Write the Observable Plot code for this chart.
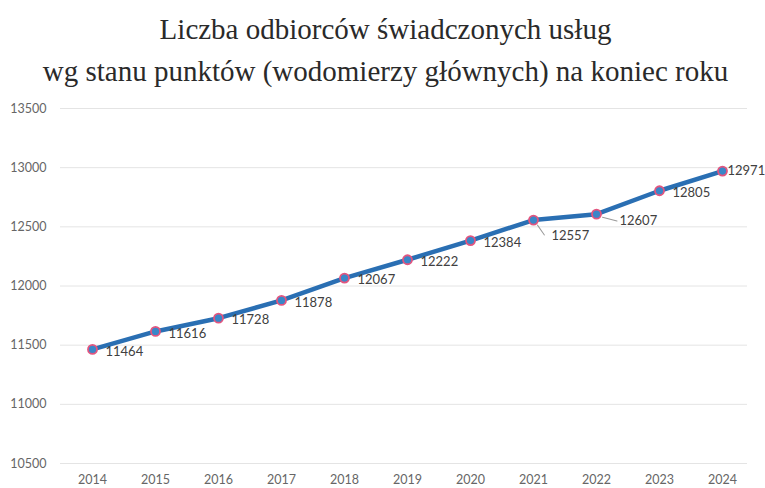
<!DOCTYPE html>
<html><head><meta charset="utf-8">
<script src="https://cdn.jsdelivr.net/npm/d3@7"></script>
<script src="https://cdn.jsdelivr.net/npm/@observablehq/plot@0.6"></script>
<style>
body{margin:0;background:#fff;width:765px;height:488px;overflow:hidden}
#title{height:95px;box-sizing:border-box;padding-top:8px;text-align:center;font-family:"Liberation Serif","DejaVu Serif",serif;font-size:29px;line-height:42px;color:#2a2a2a;padding-left:6px}
</style></head>
<body>
<div id="title">Liczba odbiorców świadczonych usług<br>wg stanu punktów (wodomierzy głównych) na koniec roku</div>
<div id="chart"></div>
<script>
const years = [2014, 2015, 2016, 2017, 2018, 2019, 2020, 2021, 2022, 2023, 2024];
const values = [11464, 11616, 11728, 11878, 12067, 12222, 12384, 12557, 12607, 12805, 12971];
const yTicks = [10500, 11000, 11500, 12000, 12500, 13000, 13500];

const data = years.map((y, i) => ({year: y, value: values[i]}));
const normal = data.filter(d => d.year !== 2021 && d.year !== 2022 && d.year !== 2024);
const font = "Lato, 'Open Sans', sans-serif";
const leader = {draw(ctx, l) { ctx.moveTo(0, 0); ctx.lineTo(0, -l); }};

const plot = Plot.plot({
  width: 765,
  height: 393,
  marginTop: 13,
  marginBottom: 25,
  marginLeft: 60,
  marginRight: 18,
  style: {fontFamily: font, fontSize: "12.5px", color: "#595959", background: "#fff"},
  x: {type: "linear", domain: [2014, 2024], range: [92, 722]},
  y: {domain: [10500, 13500]},
  marks: [
    Plot.ruleY(yTicks, {stroke: "#e4e4e4", strokeWidth: 1}),
    Plot.axisY({ticks: yTicks, tickSize: 0, tickPadding: 14, tickFormat: d => String(d), fill: "#666", label: null}),
    Plot.axisX({ticks: years, tickSize: 0, tickPadding: 12, tickFormat: d => String(d), fill: "#666", label: null}),
    Plot.line(data, {x: "year", y: "value", stroke: "#2a6fb3", strokeWidth: 4.5, strokeLinejoin: "round"}),
    Plot.dot(data, {x: "year", y: "value", r: 4.5, fill: "#3a86c8", stroke: "#e2557f", strokeWidth: 1.8}),
    Plot.text(normal, {x: "year", y: "value", text: d => String(d.value), textAnchor: "start", dx: 13, dy: 2, fill: "#404040", fontSize: 13}),
    Plot.text(data.filter(d => d.year === 2021), {x: "year", y: "value", text: d => String(d.value), textAnchor: "start", dx: 18, dy: 16, fill: "#404040", fontSize: 13}),
    Plot.vector(data.filter(d => d.year === 2021), {x: "year", y: "value", length: 12, rotate: 145, anchor: "start", shape: leader, dx: 4, dy: 5, stroke: "#9a9a9a", strokeWidth: 1}),
    Plot.text(data.filter(d => d.year === 2022), {x: "year", y: "value", text: d => String(d.value), textAnchor: "start", dx: 23, dy: 7, fill: "#404040", fontSize: 13}),
    Plot.vector(data.filter(d => d.year === 2022), {x: "year", y: "value", length: 15, rotate: 105, anchor: "start", shape: leader, dx: 6, dy: 3, stroke: "#9a9a9a", strokeWidth: 1}),
    Plot.text(data.filter(d => d.year === 2024), {x: "year", y: "value", text: d => String(d.value), textAnchor: "start", dx: 5, dy: 0, fill: "#404040", fontSize: 13})
  ]
});
document.getElementById("chart").appendChild(plot);
</script>
</body></html>
